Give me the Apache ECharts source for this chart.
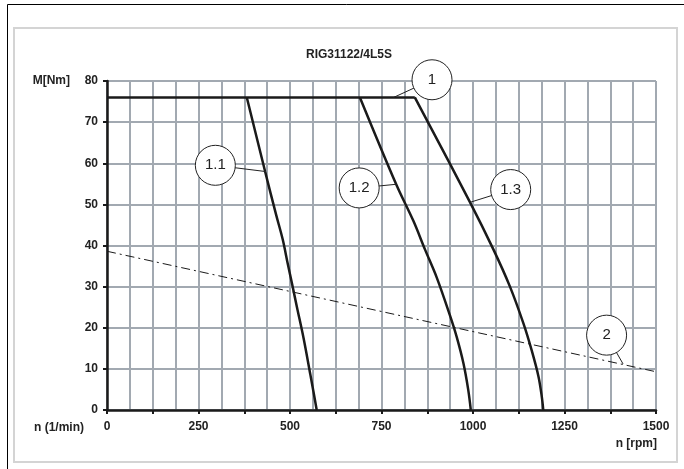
<!DOCTYPE html>
<html><head><meta charset="utf-8">
<script src="https://cdn.jsdelivr.net/npm/echarts@6/dist/echarts.min.js"></script>
<style>html,body{margin:0;padding:0;background:#fff}#c{width:684px;height:469px}</style>
</head><body><div id="c"></div>
<script>
const title = 'RIG31122/4L5S';
const yTicks = [0,10,20,30,40,50,60,70,80];
const xTickLabels = [0,250,500,750,1000,1250,1500];
// torque envelope (1)
const curve1 = [[0,76],[841,76]];
const curve11 = [[382,76],[432,58],[462,47.5],[480,41.5],[494,35.5],[506,30.5],[519,25],[537,17.5],[555,8.9],[564,4.5],[573,0]];
const curve12 = [[691,76],[791,54.7],[837,46],[869,39],[901,32.2],[937,23],[956,17.6],[974,11.3],[987,4.9],[994,0]];
const curve13 = [[841,76],[992,50.5],[1056,39],[1101,30],[1138,21],[1160,14.6],[1179,8.1],[1188,3.2],[1192,0]];
// load line (2)
const curve2 = [[0,38.6],[1500,9.3]];
// callouts: label, circle centre, leader target
const calloutLabels = ['1','1.1','1.2','1.3','2'];
const calloutCentres = [[888,80.3],[296,59.5],[689,54],[1103,53.6],[1365,18.2]];
const calloutTargets = [[783,76],[432,58],[792,54.9],[992,50.5],[1410,11.2]];

const font = '"Liberation Sans", Arial, sans-serif';
const chart = echarts.init(document.getElementById('c'), null, {renderer:'canvas'});
const gridColor = '#a2a9b1';
const series = [];
const curveStyle = {color:'#1a1a1a', width:2.5};
series.push({type:'line', data:curve1, symbol:'none', lineStyle:curveStyle, z:5, animation:false});
[curve11, curve12, curve13].forEach(d => series.push({
  type:'line', data:d, symbol:'none', smooth:0.35, lineStyle:curveStyle, z:5, animation:false
}));
series.push({type:'line', data:curve2, symbol:'none', lineStyle:{color:'#1a1a1a', width:1, type:[9,4,2,4]}, z:4, animation:false});
calloutCentres.forEach((c,i) => series.push({
  type:'line', data:[c, calloutTargets[i]], symbol:'none', lineStyle:{color:'#222', width:1}, z:6, clip:false, animation:false
}));
series.push({
  type:'scatter', clip:false, z:8, animation:false,
  data: calloutCentres.map((c,i)=>({value:c, name:calloutLabels[i]})),
  symbol:'circle', symbolSize:40,
  itemStyle:{color:'#fff', borderColor:'#222', borderWidth:1, opacity:1},
  label:{show:true, position:'inside', formatter:p=>p.name, color:'#222', fontSize:15, fontFamily:font}
});

chart.setOption({
  animation:false,
  backgroundColor:'#fff',
  grid:{left:107, top:81, right:28, bottom:59, containLabel:false},
  xAxis:{
    type:'value', min:0, max:1500, interval:125,
    axisLine:{show:true, onZero:false, lineStyle:{color:'#1a1a1a', width:2.5}},
    axisTick:{show:true, length:4, lineStyle:{color:'#1a1a1a', width:2}},
    axisLabel:{margin:11, color:'#222', fontWeight:'bold', fontSize:12, fontFamily:font,
      formatter:v => xTickLabels.indexOf(v) >= 0 ? String(v) : ''},
    splitLine:{show:true, lineStyle:{color:gridColor, width:2}},
    minorTick:{show:false, splitNumber:2},
    minorSplitLine:{show:true, lineStyle:{color:gridColor, width:2}}
  },
  yAxis:{
    type:'value', min:0, max:80, interval:10,
    axisLine:{show:true, onZero:false, lineStyle:{color:'#1a1a1a', width:2.5}},
    axisTick:{show:true, length:4, lineStyle:{color:'#1a1a1a', width:2}},
    axisLabel:{margin:9, color:'#222', fontWeight:'bold', fontSize:12, fontFamily:font,
      formatter:v => yTicks.indexOf(v) >= 0 ? String(v) : ''},
    splitLine:{show:true, lineStyle:{color:gridColor, width:2}}
  },
  graphic:[
    {type:'rect', shape:{x:7.5, y:4.5, width:720, height:520}, style:{fill:'none', stroke:'#000', lineWidth:1}, z:-10, silent:true},
    {type:'rect', shape:{x:14, y:28, width:663, height:434}, style:{fill:'none', stroke:'#d4d4d4', lineWidth:2}, z:-9, silent:true},
    {type:'text', x:349, y:55, style:{text:title, font:'bold 12px '+font, fill:'#222', textAlign:'center', textVerticalAlign:'middle'}},
    {type:'text', x:70, y:81, style:{text:'M[Nm]', font:'bold 12px '+font, fill:'#222', textAlign:'right', textVerticalAlign:'middle'}},
    {type:'text', x:84, y:428, style:{text:'n (1/min)', font:'bold 12px '+font, fill:'#222', textAlign:'right', textVerticalAlign:'middle'}},
    {type:'text', x:657, y:444, style:{text:'n [rpm]', font:'bold 12px '+font, fill:'#222', textAlign:'right', textVerticalAlign:'middle'}}
  ],
  series:series
});
</script></body></html>
